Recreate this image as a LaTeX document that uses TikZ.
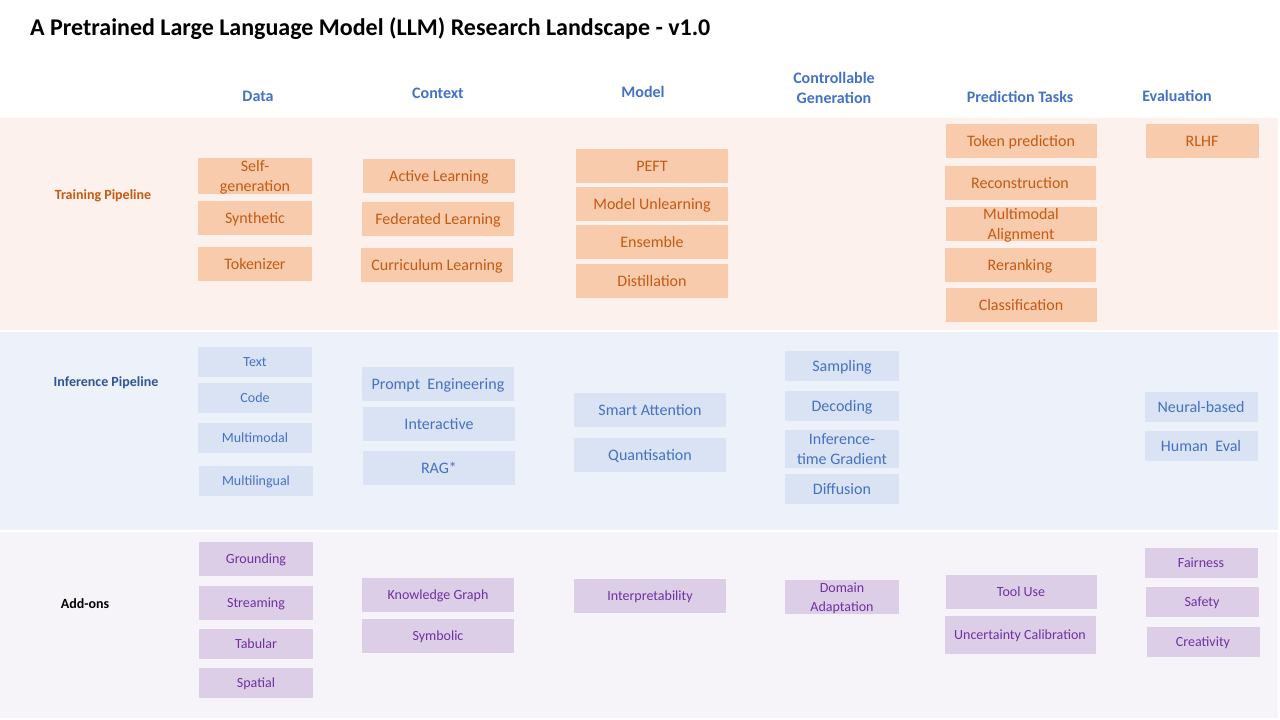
\documentclass[tikz,border=0pt]{standalone}
\usepackage{fontspec}
\setmainfont{Carlito}
\definecolor{trainBg}{HTML}{FCF1EC}
\definecolor{inferBg}{HTML}{EDF1F9}
\definecolor{addBg}{HTML}{F6F4F9}
\definecolor{trainBox}{HTML}{F8CBAD}
\definecolor{inferBox}{HTML}{DAE3F3}
\definecolor{addBox}{HTML}{DDCEE8}
\definecolor{trainText}{HTML}{C55A11}
\definecolor{inferText}{HTML}{4472C4}
\definecolor{addText}{HTML}{7030A0}
\definecolor{headBlue}{HTML}{4472C4}
\definecolor{rowBlue}{HTML}{2F5597}

\begin{document}
\begin{tikzpicture}
[x=1pt, y=-1pt,
 every node/.style={align=center, inner sep=0pt},
 nodeHead/.style={font=\fontsize{16}{20}\selectfont\bfseries, text=headBlue},
 nodeRow/.style={font=\fontsize{14}{16}\selectfont\bfseries},
 nodeBox/.style={minimum height=34, text depth=0pt, font=\fontsize{16}{20}\selectfont},
 smallText/.style={font=\fontsize{14}{19}\selectfont},
 nodeTrain/.style={nodeBox, fill=trainBox, text=trainText},
 nodeInfer/.style={nodeBox, fill=inferBox, text=inferText},
 nodeAdd/.style={nodeBox, smallText, fill=addBox, text=addText},
 colData/.style={minimum width=114},
 colCtx/.style={minimum width=152},
 colModel/.style={minimum width=152},
 colGen/.style={minimum width=114},
 colPred/.style={minimum width=151},
 colEval/.style={minimum width=113}
]
\useasboundingbox (0,0) rectangle (1280,720);
\fill[white] (0,0) rectangle (1280,720);
\fill[trainBg] (0,118) rectangle (1278,330);
\fill[inferBg] (0,332) rectangle (1278,530);
\fill[addBg]   (0,532) rectangle (1278,718);

\node[anchor=west, font=\fontsize{24}{28}\selectfont\bfseries] (title) at (30,29)
  {A Pretrained Large Language Model (LLM) Research Landscape - v1.0};

\node[nodeHead] (hData)  at ( 258, 96) {Data};
\node[nodeHead] (hCtx)   at ( 438, 93) {Context};
\node[nodeHead] (hModel) at ( 643, 92) {Model};
\node[nodeHead] (hGen)   at ( 834, 88) {Controllable\\Generation};
\node[nodeHead] (hPred)  at (1020, 97) {Prediction Tasks};
\node[nodeHead] (hEval)  at (1177, 96) {Evaluation};

\node[nodeRow, text=trainText] (rTrain) at (103,196) {Training Pipeline};
\node[nodeRow, text=rowBlue]   (rInfer) at (106,383) {Inference Pipeline};
\node[nodeRow, text=black]     (rAdd)   at ( 85,604) {Add-ons};

\node[nodeTrain, colData, minimum height=36] (tSelf) at (255,176) {Self-\\generation};
\node[nodeTrain, colData] (tSyn)   at (255,218) {Synthetic};
\node[nodeTrain, colData] (tTok)   at (255,264) {Tokenizer};
\node[nodeTrain, colCtx]  (tAct)   at (439,176) {Active Learning};
\node[nodeTrain, colCtx]  (tFed)   at (438,219) {Federated Learning};
\node[nodeTrain, colCtx]  (tCur)   at (437,265) {Curriculum Learning};
\node[nodeTrain, colModel] (tPeft) at (652,166) {PEFT};
\node[nodeTrain, colModel] (tUnl)  at (652,204) {Model Unlearning};
\node[nodeTrain, colModel] (tEns)  at (652,242) {Ensemble};
\node[nodeTrain, colModel] (tDis)  at (652,281) {Distillation};
\node[nodeTrain, colPred] (tTokP)  at (1021,141) {Token prediction};
\node[nodeTrain, colPred] (tRec)   at (1020,183) {Reconstruction};
\node[nodeTrain, colPred] (tMma)   at (1021,224) {Multimodal\\Alignment};
\node[nodeTrain, colPred] (tRer)   at (1020,265) {Reranking};
\node[nodeTrain, colPred] (tCls)   at (1021,305) {Classification};
\node[nodeTrain, colEval] (tRlhf)  at (1202,141) {RLHF};

\node[nodeInfer, smallText, colData, minimum height=30] (iText) at (255,362) {Text};
\node[nodeInfer, smallText, colData, minimum height=30] (iCode) at (255,398) {Code};
\node[nodeInfer, smallText, colData, minimum height=30] (iMm)   at (255,438) {Multimodal};
\node[nodeInfer, smallText, colData, minimum height=30] (iMl)   at (256,481) {Multilingual};
\node[nodeInfer, colCtx]  (iPrm)  at (438,384) {Prompt\ \ Engineering};
\node[nodeInfer, colCtx]  (iInt)  at (439,424) {Interactive};
\node[nodeInfer, colCtx]  (iRag)  at (439,468) {RAG*};
\node[nodeInfer, colModel] (iSma) at (650,410) {Smart Attention};
\node[nodeInfer, colModel] (iQua) at (650,455) {Quantisation};
\node[nodeInfer, colGen, minimum height=30] (iSam) at (842,366) {Sampling};
\node[nodeInfer, colGen, minimum height=30] (iDec) at (842,406) {Decoding};
\node[nodeInfer, colGen, minimum height=38] (iGrd) at (842,449) {Inference-\\time Gradient};
\node[nodeInfer, colGen, minimum height=30] (iDif) at (842,489) {Diffusion};
\node[nodeInfer, colEval, minimum height=30] (iNeu) at (1201,407) {Neural-based};
\node[nodeInfer, colEval, minimum height=30] (iHum) at (1201,446) {Human\ \ Eval};

\node[nodeAdd, colData] (aGro) at (256,559) {Grounding};
\node[nodeAdd, colData] (aStr) at (256,603) {Streaming};
\node[nodeAdd, colData, minimum height=30] (aTab) at (256,644) {Tabular};
\node[nodeAdd, colData, minimum height=30] (aSpa) at (256,683) {Spatial};
\node[nodeAdd, colCtx]  (aKg)  at (438,595) {Knowledge Graph};
\node[nodeAdd, colCtx]  (aSym) at (438,636) {Symbolic};
\node[nodeAdd, colModel] (aInt) at (650,596) {Interpretability};
\node[nodeAdd, colGen]  (aDom) at (842,597) {Domain\\Adaptation};
\node[nodeAdd, colPred] (aTool) at (1021,592) {Tool Use};
\node[nodeAdd, colPred, minimum height=38] (aUnc) at (1020,635) {Uncertainty Calibration};
\node[nodeAdd, colEval, minimum height=30] (aFai) at (1201,563) {Fairness};
\node[nodeAdd, colEval, minimum height=30] (aSaf) at (1202,602) {Safety};
\node[nodeAdd, colEval, minimum height=30] (aCre) at (1203,642) {Creativity};
\end{tikzpicture}
\end{document}
